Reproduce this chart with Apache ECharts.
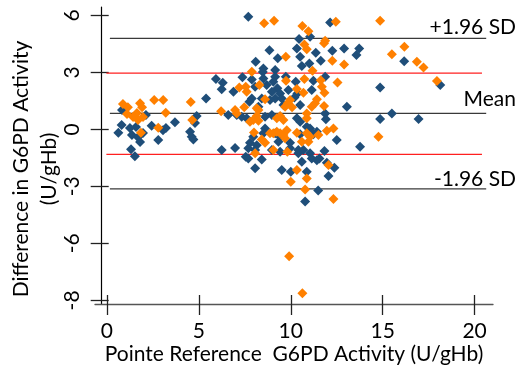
<!DOCTYPE html>
<html>
<head>
<meta charset="utf-8">
<script src="https://cdn.jsdelivr.net/npm/echarts@6/dist/echarts.min.js"></script>
<style>
  html, body { margin: 0; padding: 0; background: #fff; }
  #chart { width: 522px; height: 368px; }
</style>
</head>
<body>
<div id="chart"></div>
<script>
// first method (blue diamonds): [reference activity, difference]
const blueData = [
  [0.82, 1.02], [0.80, 0.23], [0.62, -0.18], [1.31, -1.05], [1.52, -1.41], [1.36, -0.30],
  [1.58, 0.12], [1.69, -0.41], [1.80, -0.67], [1.96, -0.19], [2.12, 0.75], [1.25, 0.07],
  [2.43, 0.19], [2.79, -0.56], [3.05, -0.04], [3.21, 0.07], [3.70, 0.37], [4.52, -0.13],
  [4.61, -0.39], [4.70, -0.53], [4.88, 0.70], [4.79, 0.33], [5.39, 1.63], [5.93, 2.65],
  [6.30, 2.45], [6.24, 2.11], [6.88, 1.98], [7.37, 2.74], [7.69, 5.93], [8.09, 3.56],
  [6.60, 0.75], [6.24, -1.09], [6.97, -0.98], [7.55, -1.44], [8.06, -2.04], [7.06, 0.75],
  [7.33, 0.66], [7.60, 0.58],
  [12.14, 5.63], [10.45, 4.75], [11.05, 4.87], [8.84, 4.17], [9.29, 3.74], [10.33, 4.26],
  [10.51, 3.82], [11.36, 4.03], [12.26, 4.14], [12.90, 4.26], [13.72, 4.25], [13.57, 3.91],
  [8.51, 3.21], [8.48, 3.02], [9.15, 3.12], [10.60, 3.33], [11.01, 3.47], [11.63, 3.61],
  [7.88, 2.63], [8.06, 2.24], [8.51, 2.68], [8.69, 2.33], [9.15, 2.77], [9.05, 2.51],
  [9.27, 2.16], [8.97, 1.98], [9.42, 1.89], [9.15, 1.63], [8.87, 1.54], [9.51, 1.63],
  [9.60, 1.28], [9.73, 2.77], [10.27, 2.51], [10.36, 1.89], [10.20, 1.68], [11.23, 2.56],
  [11.14, 2.07], [11.87, 2.77], [10.51, 1.28], [13.05, 1.19], [7.88, 1.63], [7.75, 1.45],
  [8.42, 1.63], [8.24, 1.19], [9.87, 2.07],
  [8.60, 0.66], [8.97, 0.75], [10.33, 0.58], [10.51, 0.40], [11.87, 0.84], [11.91, 0.53],
  [10.87, 0.14], [11.05, 0.05], [8.60, 0.05], [8.51, -0.21], [9.15, -0.21], [9.42, -0.39],
  [9.33, -0.65], [9.96, -0.71], [10.51, -0.26], [11.23, -0.26], [11.42, -0.13], [12.50, -0.56],
  [7.96, -0.39], [7.78, -0.71], [8.15, -0.83], [8.06, -1.09], [7.69, -1.00], [7.69, -1.53],
  [8.42, -1.58], [8.97, -1.09], [9.42, -1.18], [9.96, -1.00], [10.41, -1.09], [10.41, -1.26],
  [10.69, -1.09], [11.05, -1.26], [11.14, -1.53], [11.42, -1.62], [11.56, -1.53], [11.83, -1.14],
  [11.96, -1.76], [12.37, -2.02], [10.60, -1.71], [9.51, -2.14], [10.00, -2.23], [10.87, -2.23],
  [12.05, -2.46], [13.77, -0.92], [11.49, -3.22], [10.78, -3.80],
  [16.17, 3.59], [14.86, 2.21], [18.13, 2.33], [15.50, 0.84], [14.86, 0.54], [16.95, 0.54]
];

// second method (orange diamonds)
const orangeData = [
  [0.87, 1.33], [1.14, 1.17], [1.80, 1.38], [1.91, 1.17], [1.63, 0.86], [1.42, 0.65],
  [1.96, 0.65], [1.69, 0.49], [1.09, 0.81], [1.85, -0.18], [2.57, 1.54], [3.06, 1.54],
  [3.20, 0.87], [2.79, 0.08], [4.56, 1.44], [4.64, 0.49], [6.21, 0.96], [6.97, 1.02],
  [7.06, 0.84], [7.20, 2.21], [7.55, 2.24], [7.47, 1.16], [7.88, 3.03], [7.78, 0.40],
  [8.06, -1.26],
  [8.55, 5.58], [9.09, 5.72], [12.45, 5.66], [10.63, 5.44], [10.96, 5.17], [11.87, 4.66],
  [11.81, 4.53], [10.74, 4.47], [10.87, 4.21], [9.73, 3.82], [12.26, 3.61], [12.90, 3.42],
  [11.18, 3.08], [12.54, 2.47], [11.63, 2.59], [11.69, 2.24], [10.74, 2.65], [9.74, 2.56],
  [8.29, 2.33], [7.60, 1.98], [10.33, 2.12], [10.69, 1.93], [11.83, 1.93], [11.42, 1.58],
  [11.32, 1.37], [11.14, 1.19], [8.60, 1.58], [9.84, 1.37], [9.69, 1.19], [9.96, 1.54],
  [11.81, 1.23], [8.15, 1.11], [8.24, 1.02],
  [7.96, 0.49], [8.15, 0.70], [8.24, 0.45], [9.24, 0.58], [9.42, 0.70], [9.60, 0.49],
  [10.07, 1.17], [10.87, 0.84], [10.87, 0.58],
  [8.00, -0.16], [8.42, -0.53], [8.60, -0.71], [8.87, -0.21], [9.05, -0.21], [9.24, -0.13],
  [9.42, -0.21], [9.60, -0.30], [9.78, -0.04], [9.69, -0.47], [10.33, -0.18], [10.60, -0.65],
  [10.87, -0.21], [11.05, -0.39], [10.96, -0.65], [11.50, -0.30], [11.96, -0.07], [12.32, 0.05],
  [9.05, -1.09], [9.81, -1.18], [12.05, -1.88], [10.33, -2.14], [10.00, -2.76], [10.87, -2.58],
  [10.78, -3.16], [12.32, -3.67], [9.91, -6.68], [10.63, -8.62],
  [14.86, 5.72], [16.18, 4.35], [15.50, 3.95], [16.86, 3.56], [17.22, 3.26], [17.95, 2.54],
  [14.77, -0.39]
];

const xTicks = [0, 5, 10, 15, 20];
const yTicks = [-9, -6, -3, 0, 3, 6];
const yTickLabels = ['-8', '-6', '-3', '0', '3', '6'];

// agreement lines
const upperLimit = 4.79;
const meanDiff = 0.84;
const lowerLimit = -3.13;
const upperRed = 2.96;
const lowerRed = -1.32;
const blackSpan = [0.16, 20.63];
const redSpan = [-0.03, 20.4];

const FONT = 'Lato';

const hline = (y, span, color, width) => ({
  type: 'line',
  data: [[span[0], y], [span[1], y]],
  symbol: 'none',
  silent: true,
  z: 1,
  lineStyle: { color, width }
});

const chart = echarts.init(document.getElementById('chart'));

const xBase = {
  type: 'value', min: -0.65, max: 21.0, position: 'bottom',
  splitLine: { show: false }
};
const yBase = {
  type: 'value', min: -9.19, max: 6.44, position: 'left', offset: -6.7,
  splitLine: { show: false }
};

chart.setOption({
  animation: false,
  textStyle: { fontFamily: FONT },
  grid: { left: 95, right: 29, top: 7, bottom: 64, outerBoundsMode: 'none' },
  xAxis: [
    Object.assign({}, xBase, {
      name: 'Pointe Reference  G6PD Activity (U/gHb)',
      nameLocation: 'middle',
      nameGap: 40,
      nameMoveOverlap: false,
      nameTextStyle: { fontSize: 21, color: '#000', fontFamily: FONT },
      axisLine: { onZero: false, lineStyle: { color: '#555', width: 1.3 } },
      axisTick: { length: 11, customValues: xTicks, lineStyle: { color: '#222', width: 1.3 } },
      axisLabel: { customValues: xTicks, margin: 17, fontSize: 21, color: '#000', fontFamily: FONT }
    }),
    Object.assign({}, xBase, {
      axisLine: { show: false, onZero: false },
      axisTick: { inside: true, length: 9, customValues: xTicks, lineStyle: { color: '#222', width: 1.3 } },
      axisLabel: { show: false }
    })
  ],
  yAxis: [
    Object.assign({}, yBase, {
      name: 'Difference in G6PD Activity\n(U/gHb)',
      nameLocation: 'middle',
      nameRotate: 90,
      nameGap: 38,
      nameMoveOverlap: false,
      nameTextStyle: { fontSize: 21, lineHeight: 28, color: '#000', fontFamily: FONT, padding: [0, 27, 0, 0] },
      axisLine: { onZero: false, lineStyle: { color: '#000', width: 1.2 } },
      axisTick: { length: 11, customValues: yTicks, lineStyle: { color: '#222', width: 1.3 } },
      axisLabel: {
        customValues: yTicks, rotate: 90, margin: 19, fontSize: 21, color: '#000', fontFamily: FONT,
        formatter: v => yTickLabels[yTicks.indexOf(v)]
      }
    }),
    Object.assign({}, yBase, {
      axisLine: { show: false, onZero: false },
      axisTick: { inside: true, length: 7, customValues: yTicks, lineStyle: { color: '#222', width: 1.3 } },
      axisLabel: { show: false }
    })
  ],
  series: [
    hline(upperLimit, blackSpan, '#3a3a3a', 1.4),
    hline(meanDiff, blackSpan, '#3a3a3a', 1.4),
    hline(lowerLimit, blackSpan, '#3a3a3a', 1.4),
    hline(upperRed, redSpan, '#ff2020', 1.2),
    hline(lowerRed, redSpan, '#ff2020', 1.2),
    {
      type: 'scatter', data: blueData, symbol: 'diamond', symbolSize: 10, z: 3,
      itemStyle: { color: '#1f4e79', opacity: 1 }
    },
    {
      type: 'scatter', data: orangeData, symbol: 'diamond', symbolSize: 10, z: 4,
      itemStyle: { color: '#ff8000', opacity: 1 }
    }
  ],
  graphic: [
    { type: 'text', x: 516, y: 27, style: { text: '+1.96 SD', font: '21px ' + FONT, fill: '#000', align: 'right', verticalAlign: 'middle' } },
    { type: 'text', x: 516, y: 99, style: { text: 'Mean', font: '21px ' + FONT, fill: '#000', align: 'right', verticalAlign: 'middle' } },
    { type: 'text', x: 516, y: 179, style: { text: '-1.96 SD', font: '21px ' + FONT, fill: '#000', align: 'right', verticalAlign: 'middle' } }
  ]
});
</script>
</body>
</html>
